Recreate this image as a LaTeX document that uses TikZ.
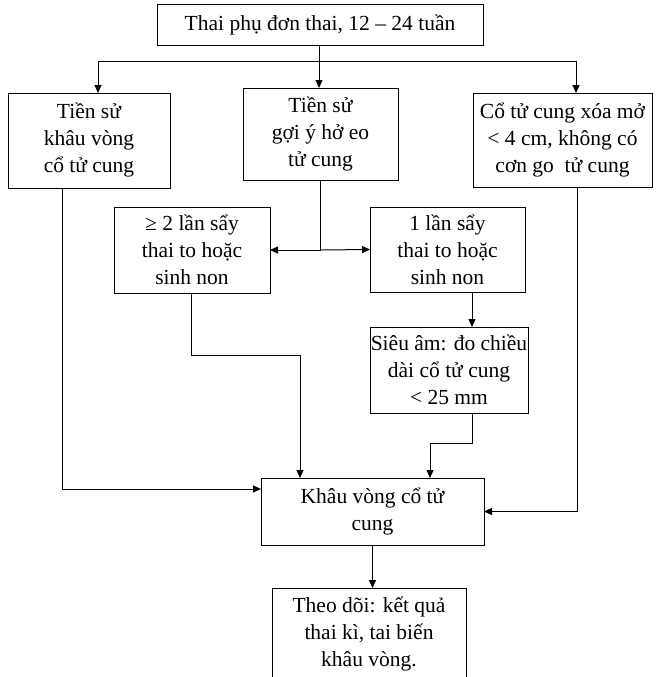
\documentclass[tikz,border=0pt]{standalone}
\usepackage{fontspec}
\setmainfont{Liberation Serif}
\usetikzlibrary{arrows.meta}

\begin{document}
\begin{tikzpicture}[x=1pt,y=-1pt,line width=1pt,
    box/.style={draw, align=center, inner sep=0pt, outer sep=0pt,
        font=\fontsize{21.5}{27}\selectfont},
    arr/.style={-{Triangle[length=8pt,width=7pt]}}]

    \useasboundingbox (0,0) rectangle (657,677);

    \node[box, minimum width=326, minimum height=41] (top) at (320,25) {Thai phụ đơn thai, 12 – 24 tuần};

    \node[box, minimum width=162, minimum height=95] (tsk) at (89,140.5) {Tiền sử\\khâu vòng\\cổ tử cung};
    \node[box, minimum width=155, minimum height=92] (tsg) at (320.5,134) {Tiền sử\\gợi ý hở eo\\tử cung};
    \node[box, minimum width=179, minimum height=94] (ctc) at (562.5,140) {Cổ tử cung xóa mở\\< 4 cm, không có\\cơn go\ \ tử cung};

    \node[box, minimum width=156, minimum height=86] (sayhai) at (192,250) {≥ 2 lần sẩy\\thai to hoặc\\sinh non};
    \node[box, minimum width=155, minimum height=85] (saymot) at (447.5,249.5) {1 lần sẩy\\thai to hoặc\\sinh non};
    \node[box, minimum width=158, minimum height=86] (sieuam) at (449,370) {Siêu âm: đo chiều\\dài cổ tử cung\\< 25 mm};

    \node[box, minimum width=223, minimum height=67] (khau) at (372.5,511.5) {Khâu vòng cổ tử\\cung};
    \node[box, minimum width=194, minimum height=92] (theodoi) at (369,634) {Theo dõi: kết quả\\thai kì, tai biến\\khâu vòng.};

    % first level
    \coordinate (fork) at (319,62);
    \draw[arr] (top.south -| fork) -- (fork |- tsg.north);
    \draw[arr] (fork) -| ([xshift=9pt]tsk.north);
    \draw[arr] (fork) -| ([xshift=13.5pt]ctc.north);

    % history of miscarriage
    \coordinate (branch) at (tsg.south |- sayhai.east);
    \draw (tsg.south) -- (branch);
    \draw[arr] (branch) -- (sayhai.east);
    \draw[arr] (branch) -- (saymot.west);
    \draw[arr] ([xshift=24.5pt]saymot.south) -- ([xshift=23pt]sieuam.north);

    % into cerclage
    \draw[arr] ([xshift=-27pt]tsk.south) |- ([yshift=22.5pt]khau.west);
    \draw[arr] ([xshift=-1pt]sayhai.south) -- ++(0,62) -| ([xshift=-72.5pt]khau.north);
    \draw[arr] ([xshift=23pt]sieuam.south) -- ++(0,30) -| ([xshift=57.5pt]khau.north);
    \draw[arr] ([xshift=14.5pt]ctc.south) |- (khau.east);
    \draw[arr] (khau.south) -- (khau.south |- theodoi.north);

\end{tikzpicture}
\end{document}
